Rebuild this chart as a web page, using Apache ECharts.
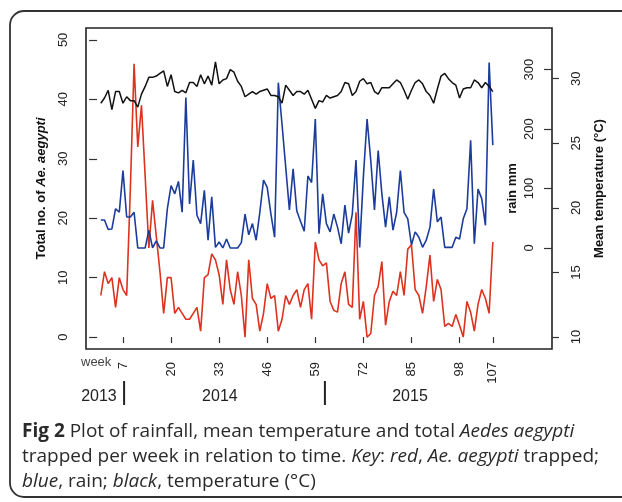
<!DOCTYPE html>
<html>
<head>
<meta charset="utf-8">
<script src="https://cdn.jsdelivr.net/npm/echarts@6/dist/echarts.min.js"></script>
<style>
    html, body { margin: 0; padding: 0; background: #fff; }
    #chart { width: 622px; height: 502px; }
</style>
</head>
<body>
<div id="chart"></div>
<script>
// weekly values, week 1 .. 107
const aegypti = [7, 11, 9, 10, 5, 10, 8, 7, 25, 46, 32, 39, 27, 15, 23, 17, 11, 4, 10, 10,
    4, 5, 4, 3, 3, 4, 5, 1, 10, 10.5, 14, 13, 10.5, 5.5, 13, 8, 5.5, 11, 7, 0,
    13, 6.5, 5.5, 1, 4, 9, 6.5, 7, 1, 3, 7, 5.5, 7, 8, 5, 8, 9, 3, 16, 13,
    12, 12.5, 6, 4.5, 4.2, 9, 11, 5.5, 5, 21, 3, 6, 0, 0.6, 7, 8.5, 12.7, 2, 6, 7.7,
    7, 11, 7, 14.8, 15.5, 8, 7, 4, 8.5, 13.8, 6, 9.7, 8, 1.8, 2.3, 1.8, 3.8, 2, 0, 6,
    4.2, 1, 5.5, 8, 6.5, 4, 16];
const rain = [47, 47, 31, 32, 66, 60, 130, 52, 52, 60, 0, 0, 0, 30, 0, 12, 0, 0, 66, 105,
    91, 112, 60, 253, 74, 148, 55, 41, 97, 13, 86, 1, 10, 0, 15, 0, 0, 0, 9, 57,
    22, 41, 13, 60, 114, 102, 57, 18, 278, 208, 136, 64, 133, 62, 45, 28, 121, 110, 217, 24,
    91, 41, 27, 57, 35, 7, 72, 25, 57, 148, 1, 120, 217, 147, 64, 164, 91, 35, 86, 30,
    60, 130, 60, 49, 5, 27, 18, 1, 13, 35, 99, 44, 52, 1, 1, 1, 18, 15, 49, 66,
    181, 7, 99, 83, 38, 312, 173];
const temperature = [28.1, 28.5, 29.1, 27.6, 29.0, 29.0, 28.1, 28.6, 28.3, 28.3, 27.8, 28.8, 29.4, 30.1, 30.1, 30.2, 30.4, 30.6, 29.4, 30.3,
    29.0, 28.9, 29.1, 28.9, 29.7, 29.7, 29.4, 30.3, 29.6, 30.2, 29.5, 31.3, 29.6, 29.9, 30.0, 30.7, 30.5, 29.8, 29.4, 28.6,
    28.8, 29.0, 28.8, 29.0, 29.1, 29.2, 28.7, 28.7, 28.6, 28.1, 29.5, 29.1, 28.7, 29.0, 29.0, 28.8, 29.1, 28.4, 27.7, 28.3,
    28.2, 28.7, 28.5, 28.6, 28.7, 29.0, 29.7, 29.6, 28.7, 29.0, 29.8, 30.0, 29.6, 29.7, 29.0, 28.8, 29.3, 29.3, 29.3, 29.6,
    29.9, 29.7, 29.1, 28.4, 29.1, 29.7, 29.9, 29.6, 29.0, 28.7, 28.1, 29.2, 30.2, 30.4, 30.0, 29.7, 29.5, 28.5, 29.2, 29.3,
    29.3, 29.9, 29.7, 29.3, 29.7, 29.4, 29.0];

const weekTicks = [7, 20, 33, 46, 59, 72, 85, 98, 107];
const countTicks = [0, 10, 20, 30, 40, 50];
const rainTicks = [0, 100, 200, 300];
const tempTicks = [10, 15, 20, 25, 30];
const years = ['2013', '2014', '2015'];
const yearCentres = [0.5, 33.2, 84.6];   // week under each year label
const yearBreaks = [7.3, 61.6];         // week of each year divider

const weeks = aegypti.map((_, i) => i + 1);
const pairs = vals => vals.map((v, i) => [weeks[i], v]);

const FONT = '"Liberation Sans", Arial, sans-serif';
const CAP = '"Open Sans", sans-serif';

const chart = echarts.init(document.getElementById('chart'));

function yAxisBase(ticks, extra) {
    return Object.assign({
        type: 'value',
        splitLine: { show: false },
        axisLine: { show: false },
        axisTick: { show: true, length: 8, customValues: ticks, lineStyle: { color: '#333', width: 1.2 } },
        axisLabel: { customValues: ticks, rotate: 90, color: '#222', fontSize: 13, fontFamily: FONT },
        nameLocation: 'middle',
        nameRotate: 90,
        nameMoveOverlap: false
    }, extra);
}

const option = {
    animation: false,
    backgroundColor: '#fff',
    grid: {
        left: 86, top: 28, width: 466, height: 321,
        show: true, borderColor: '#222', borderWidth: 1.6, containLabel: false
    },
    xAxis: {
        type: 'value',
        min: -3, max: 123,
        offset: 2,
        splitLine: { show: false },
        axisLine: { show: false },
        axisTick: { show: true, length: 6, customValues: weekTicks, lineStyle: { color: '#333', width: 1.2 } },
        axisLabel: { customValues: weekTicks, rotate: 90, margin: 11, color: '#222', fontSize: 13, fontFamily: FONT }
    },
    yAxis: [
        yAxisBase(countTicks, {
            position: 'left', min: -2, max: 52,
            axisLabel: { customValues: countTicks, rotate: 90, margin: 16, color: '#222', fontSize: 13, fontFamily: FONT },
            name: '{b|Total no. of }{bi|Ae. aegypti}',
            nameGap: 38,
            nameTextStyle: {
                rich: {
                    b: { fontWeight: 'bold', fontSize: 13, fontFamily: FONT, color: '#111' },
                    bi: { fontWeight: 'bold', fontStyle: 'italic', fontSize: 13, fontFamily: FONT, color: '#111' }
                }
            }
        }),
        yAxisBase(rainTicks, {
            position: 'right', min: -170, max: 370,
            axisTick: { show: true, inside: true, length: 8, customValues: rainTicks, lineStyle: { color: '#333', width: 1.2 } },
            axisLabel: { customValues: rainTicks, inside: true, rotate: 90, margin: 16, color: '#222', fontSize: 13, fontFamily: FONT },
            name: 'rain mm',
            nameGap: -46,
            nameTextStyle: { fontWeight: 'bold', fontSize: 13, fontFamily: FONT, color: '#111' }
        }),
        yAxisBase(tempTicks, {
            position: 'right', min: 9.08, max: 33.92,
            axisTick: { show: true, length: 7, customValues: tempTicks, lineStyle: { color: '#333', width: 1.2 } },
            axisLabel: { customValues: tempTicks, rotate: 90, margin: 18, color: '#222', fontSize: 13, fontFamily: FONT },
            name: 'Mean temperature (\u00b0C)',
            nameGap: 41,
            nameTextStyle: { fontWeight: 'bold', fontSize: 13, fontFamily: FONT, color: '#111' }
        })
    ],
    series: [
        {
            name: 'Ae. aegypti', type: 'line', yAxisIndex: 0,
            data: pairs(aegypti), symbol: 'none',
            lineStyle: { color: '#dc321e', width: 1.6 }
        },
        {
            name: 'rain', type: 'line', yAxisIndex: 1,
            data: pairs(rain), symbol: 'none',
            lineStyle: { color: '#1c3c9c', width: 1.6 }
        },
        {
            name: 'temperature', type: 'line', yAxisIndex: 2,
            data: pairs(temperature), symbol: 'none',
            lineStyle: { color: '#111', width: 1.5 }
        }
    ]
};
chart.setOption(option);

// year strip under the week axis, placed through the x scale
const px = w => chart.convertToPixel({ xAxisIndex: 0 }, w);
const graphics = [
    {
        type: 'rect', silent: true,
        shape: { x: 10, y: 11, width: 700, height: 486, r: 14 },
        style: { fill: 'none', stroke: '#333', lineWidth: 1.8 }
    },
    {
        type: 'text', x: 81, y: 362,
        style: { text: 'week', font: '13px ' + FONT, fill: '#444', verticalAlign: 'middle' }
    }
];
years.forEach((y, i) => {
    graphics.push({
        type: 'text', x: px(yearCentres[i]), y: 397,
        style: { text: y, font: '16px ' + FONT, fill: '#222', align: 'center', verticalAlign: 'middle' }
    });
});
yearBreaks.forEach(w => {
    graphics.push({
        type: 'line',
        shape: { x1: px(w), y1: 381, x2: px(w), y2: 405 },
        style: { stroke: '#222', lineWidth: 2 }
    });
});

const captionRich = {
    b: { fontWeight: 'bold', fontSize: 19, fontFamily: CAP, fill: '#2a2a2a' },
    i: { fontStyle: 'italic', fontSize: 19, fontFamily: CAP, fill: '#2a2a2a' }
};
const captionLines = [
    '{b|Fig 2} Plot of rainfall, mean temperature and total {i|Aedes aegypti}',
    'trapped per week in relation to time. {i|Key}: {i|red}, {i|Ae. aegypti} trapped;',
    '{i|blue}, rain; {i|black}, temperature (\u00b0C)'
];
captionLines.forEach((t, i) => {
    graphics.push({
        type: 'text', x: 22, y: 432 + i * 25,
        style: {
            text: t, fontSize: 19, fontFamily: CAP, fill: '#2a2a2a',
            verticalAlign: 'middle', rich: captionRich
        }
    });
});

chart.setOption({ graphic: graphics });
</script>
</body>
</html>
